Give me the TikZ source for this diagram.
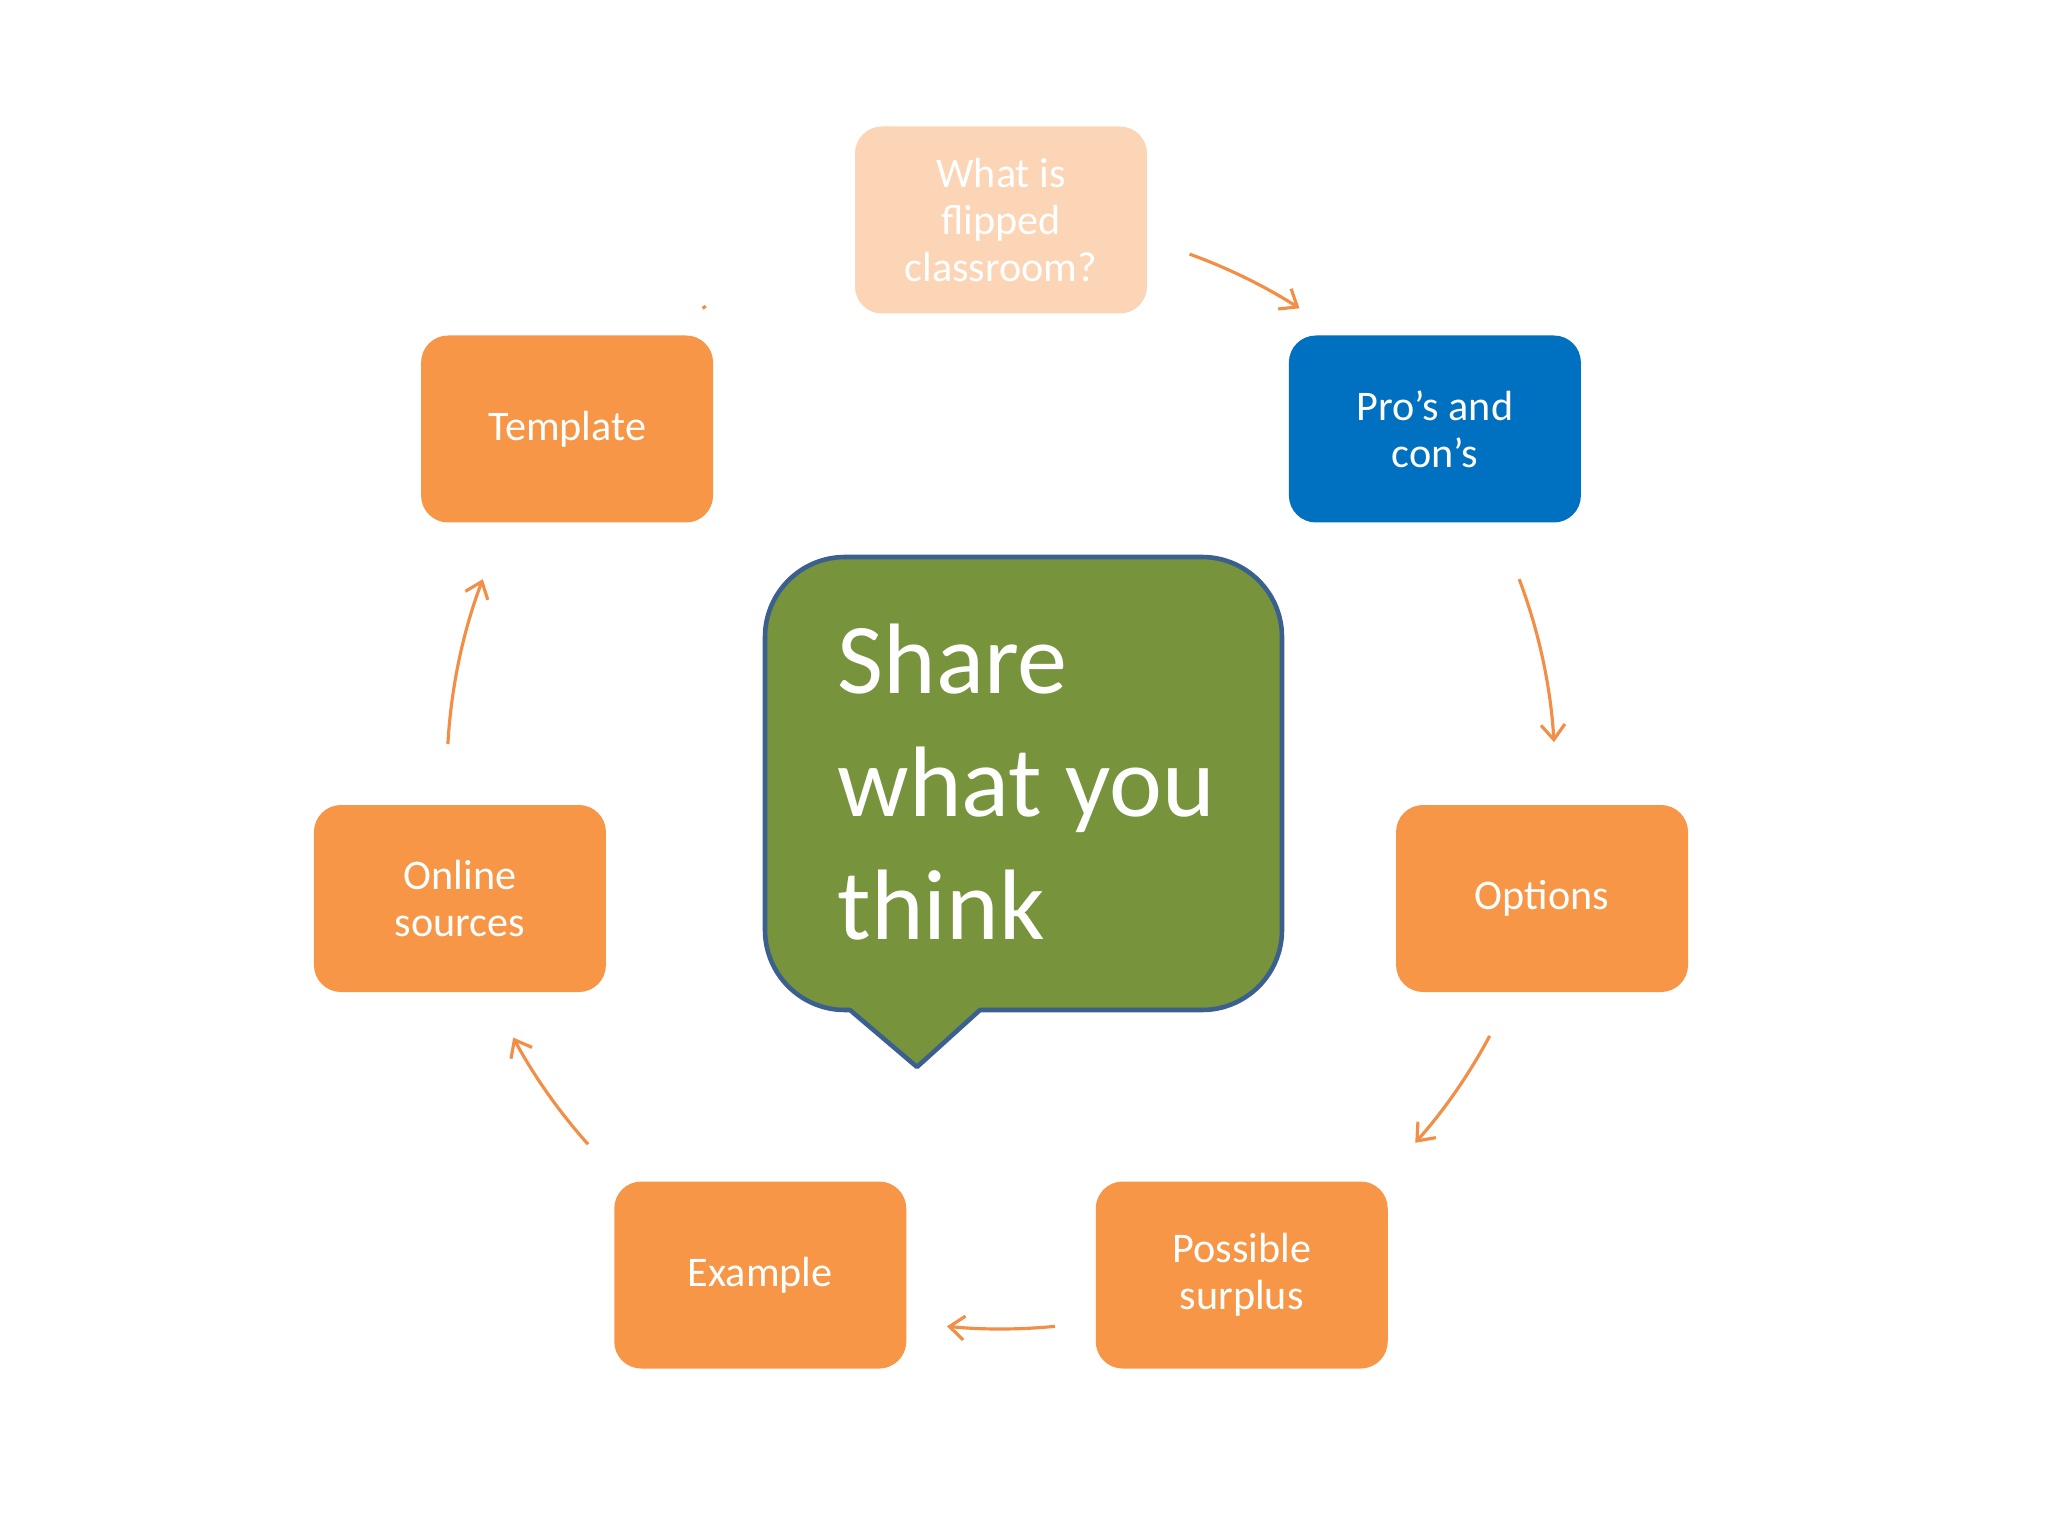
\documentclass[tikz,border=0pt]{standalone}
\usepackage{fontspec}
\setmainfont{Carlito}
\usetikzlibrary{arrows.meta, calc}
\definecolor{boxorange}{HTML}{F79646}
\definecolor{boxpeach}{HTML}{FBD5B5}
\definecolor{boxblue}{HTML}{0070C0}
\definecolor{bubblegreen}{HTML}{77933C}
\definecolor{bubbleedge}{HTML}{3B5F8E}
\definecolor{arrorange}{HTML}{F28E45}

\begin{document}
\begin{tikzpicture}[
    box/.style={rounded corners=0.27cm, minimum width=2.92cm, minimum height=1.87cm, inner sep=0pt, align=center, text=white, font=\fontsize{12}{13.4}\selectfont},
    arr/.style={-{Straight Barb[length=1.5mm, width=2.4mm]}, arrorange, line width=0.9pt},
    bubble/.style={fill=bubblegreen, draw=bubbleedge, line width=1.3pt, line join=round}
]
\useasboundingbox (0,0) rectangle (20.48,-15.36);
\coordinate (c) at (10.01,-7.75);

% steps round the circle
\node[box, fill=boxpeach] (what) at ($(c)+(90:5.55)$) {What is\\flipped\\classroom?};
\node[box, fill=boxblue] (pros) at ($(c)+(38.57:5.55)$) {Pro’s and\\con’s};
\node[box, fill=boxorange] (options) at ($(c)+(-12.86:5.55)$) {Options};
\node[box, fill=boxorange] (surplus) at ($(c)+(-64.29:5.55)$) {Possible\\surplus};
\node[box, fill=boxorange] (example) at ($(c)+(-115.71:5.55)$) {Example};
\node[box, fill=boxorange] (online) at ($(c)+(-167.14:5.55)$) {Online\\sources};
\node[box, fill=boxorange] (template) at ($(c)+(141.43:5.55)$) {Template};

% arcs between the steps
\foreach \s/\e [count=\i] in {70.1/57.4, 20.7/3.4, -28.1/-41.6, -84.4/-95.6, -138.2/-151.7, 176.8/159.3} {
  \coordinate (a\i) at ($(c)+(\s:5.54)$);
  \draw[arr] (a\i) arc[start angle=\s, end angle=\e, radius=5.54];
}
\coordinate (a7) at ($(c)+(122.6:5.54)$);
\draw[arrorange, line width=0.9pt] (a7) arc[start angle=122.6, end angle=122.2, radius=5.54];

% speech bubble
\draw[bubble] (9.17,-10.67) -- (9.80,-10.10) -- (12.02,-10.10)
  arc[start angle=-90, end angle=0, radius=0.8] -- (12.82,-6.37)
  arc[start angle=0, end angle=90, radius=0.8] -- (8.45,-5.57)
  arc[start angle=90, end angle=180, radius=0.8] -- (7.65,-9.30)
  arc[start angle=180, end angle=270, radius=0.8] -- (8.50,-10.10) -- cycle;
\node[anchor=west, align=left, inner sep=0pt, text=white, font=\fontsize{28.5}{34.9}\selectfont] (share) at (8.37,-7.82) {Share\\what you\\think};
\end{tikzpicture}
\end{document}
